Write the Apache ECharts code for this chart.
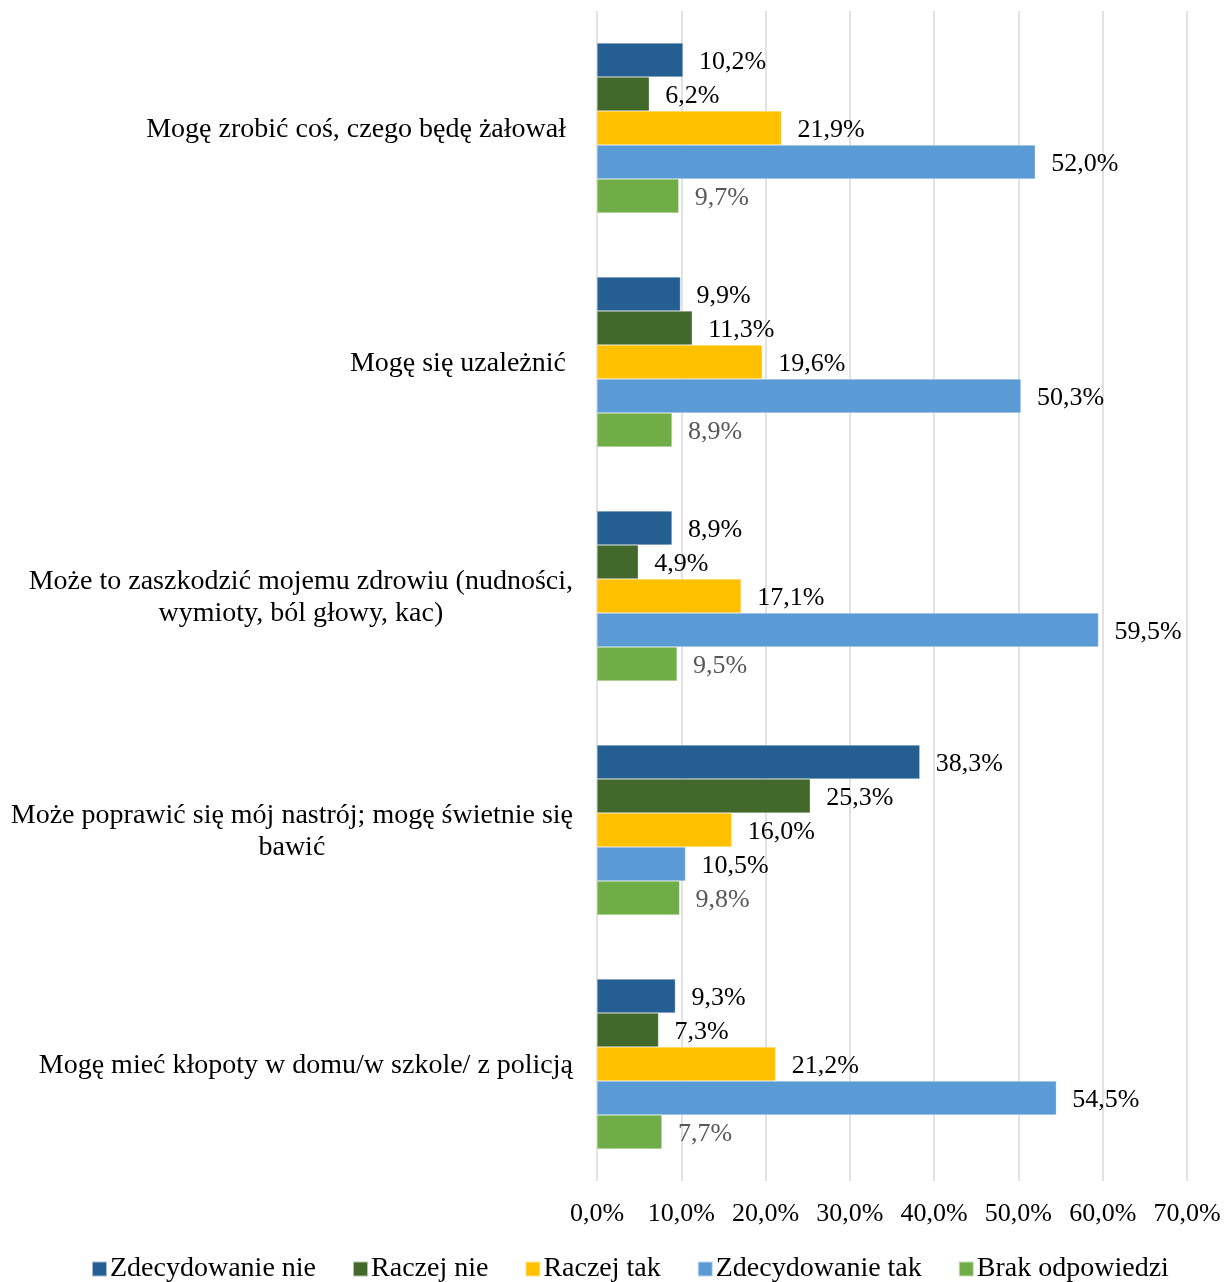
<!DOCTYPE html>
<html><head><meta charset="utf-8">
<script src="https://cdn.jsdelivr.net/npm/echarts@6/dist/echarts.min.js"></script>
<style>html,body{margin:0;padding:0;background:#fff}#c{width:1231px;height:1282px}</style>
</head><body><div id="c"></div>
<script>
var categories = [
  "Mogę zrobić coś, czego będę żałował ",
  "Mogę się uzależnić ",
  "Może to zaszkodzić mojemu zdrowiu (nudności,\nwymioty, ból głowy, kac)",
  "Może poprawić się mój nastrój; mogę świetnie się\nbawić",
  "Mogę mieć kłopoty w domu/w szkole/ z policją"
];
var seriesNames = ["Zdecydowanie nie", "Raczej nie", "Raczej tak", "Zdecydowanie tak", "Brak odpowiedzi"];
var zdecydowanieNie = [10.2, 9.9, 8.9, 38.3, 9.3];
var raczejNie = [6.2, 11.3, 4.9, 25.3, 7.3];
var raczejTak = [21.9, 19.6, 17.1, 16.0, 21.2];
var zdecydowanieTak = [52.0, 50.3, 59.5, 10.5, 54.5];
var brakOdpowiedzi = [9.7, 8.9, 9.5, 9.8, 7.7];
var xTicks = [0, 10, 20, 30, 40, 50, 60, 70];

var colors = ["#255E91", "#43682B", "#FFC000", "#5B9BD5", "#70AD47"];
var labelColors = ["#000", "#000", "#000", "#000", "#595959"];
var FONT = "'Liberation Serif', 'Times New Roman', serif";
var CAT_FS = 28, VAL_FS = 26;
var allData = [zdecydowanieNie, raczejNie, raczejTak, zdecydowanieTak, brakOdpowiedzi];

var ctx = document.createElement('canvas').getContext('2d');
ctx.font = CAT_FS + "px " + FONT;
function fmt(v) { return v.toFixed(1).replace('.', ',') + '%'; }

var series = allData.map(function (d, i) {
  return {
    name: seriesNames[i], type: 'bar', data: d, barWidth: 34, barGap: '0%',
    itemStyle: { color: colors[i], borderColor: 'rgba(255,255,255,0.6)', borderWidth: 0.5 },
    label: { show: true, position: 'right', distance: 16, offset: [0, 2], color: labelColors[i],
      fontFamily: FONT, fontSize: VAL_FS, formatter: function (p) { return fmt(p.value); } }
  };
});

// per-label rich style so multi-line labels are centred within their own width
var rich = {};
categories.forEach(function (c, i) {
  var ls = c.split('\n');
  if (ls.length > 1) {
    var w = 0;
    ls.forEach(function (l) { w = Math.max(w, ctx.measureText(l).width); });
    rich['c' + i] = { align: 'center', fontFamily: FONT, fontSize: CAT_FS, color: '#000', lineHeight: 32, width: w };
  }
});

var chart = echarts.init(document.getElementById('c'));
chart.setOption({
  backgroundColor: '#fff',
  animation: false,
  grid: { left: 597, right: 44, top: 11, bottom: 101, containLabel: false },
  xAxis: {
    type: 'value', min: 0, max: 70, interval: 10,
    axisLine: { show: false }, axisTick: { show: false },
    splitLine: { show: true, lineStyle: { color: '#d9d9d9', width: 1.5 } },
    axisLabel: { margin: 20, color: '#000', fontFamily: FONT, fontSize: VAL_FS,
      formatter: function (v) { return v.toFixed(1).replace('.', ',') + '%'; } }
  },
  yAxis: {
    type: 'category', data: categories, inverse: true,
    axisLine: { show: false }, axisTick: { show: false },
    axisLabel: {
      margin: 24, color: '#000', fontFamily: FONT, fontSize: CAT_FS, lineHeight: 32,
      padding: [4, 0, 0, 0],
      formatter: function (v, idx) {
        var lines = v.split('\n');
        if (lines.length === 1) return v;
        return lines.map(function (l) { return '{c' + idx + '|' + l + '}'; }).join('\n');
      },
      rich: rich
    }
  },
  legend: {
    bottom: -6, left: 86, itemWidth: 15, itemHeight: 15, itemGap: 36, icon: 'rect',
    textStyle: { fontFamily: FONT, fontSize: CAT_FS, color: '#000', padding: [0, 0, 0, -2] },
    data: seriesNames
  },
  series: series
});
</script></body></html>
